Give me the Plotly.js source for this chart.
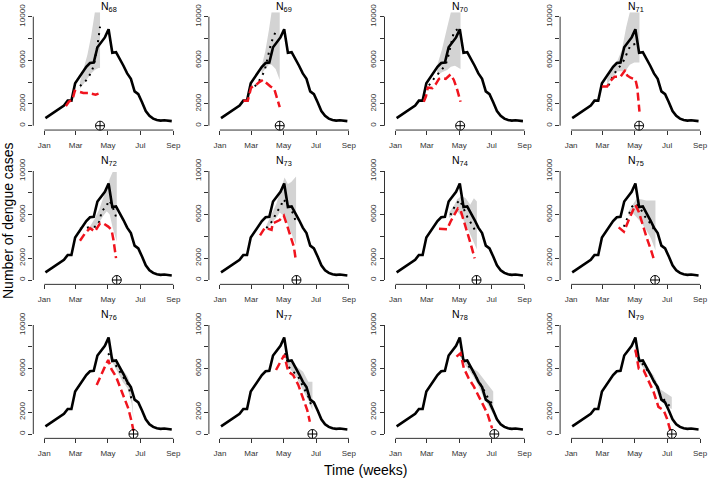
<!DOCTYPE html>
<html>
<head>
<meta charset="utf-8">
<script src="https://cdn.plot.ly/plotly-3.0.1.min.js"></script>
<style>
html, body { margin: 0; padding: 0; background: #fff; }
#chart { width: 709px; height: 480px; }
</style>
</head>
<body>
<div id="chart"></div>
<script>
"use strict"

// weeks counted from 1 January
var monthWeeks = [0, 8.43, 17.14, 25.86, 34.71];
var monthLabels = ['Jan', 'Mar', 'May', 'Jul', 'Sep'];
// R drops the labels that would overlap: 4000 and 8000 keep only a tick
var caseTicks = [0, 2000, 6000, 10000];
var caseTicksBare = [4000, 8000];

// observed weekly dengue cases
var obsCases = [700, 930, 1180, 1400, 1580, 1850, 2300, 2300, 3900, 4400, 4900, 5400,
	5750, 5800, 7200, 7700, 8100, 8850, 6700, 6750, 6150, 5500, 4800, 4300,
	3150, 2900, 2150, 1350, 900, 650, 520, 470, 500, 450, 420];
var obsWeeks = [];
for (var k = 0; k < obsCases.length; k++) obsWeeks.push(k + 0.3);

var panelNames = ['68', '69', '70', '71', '72', '73', '74', '75', '76', '77', '78', '79'];
var crossWeeks = [15.0, 16.1, 17.4, 18.3, 19.5, 20.6, 21.8, 22.6, 24.0, 24.9, 26.6, 27.1];

// grey prediction band
var bandWeeks = [
	[9.6, 10.6, 11.6, 12.6, 13.6, 14.6, 15.0],
	[11.2, 12.2, 13.2, 13.9, 15.0, 16.1],
	[11.2, 12.5, 13.9, 14.9, 16.0, 17.5],
	[9.7, 11.0, 12.5, 13.7, 14.8, 15.8, 17.0, 18.4],
	[12.3, 13.5, 14.8, 15.9, 16.8, 17.6, 18.4, 19.5],
	[12.5, 13.9, 15.2, 16.1, 17.4, 18.3, 19.2, 20.5],
	[14.4, 15.7, 16.6, 17.8, 18.9, 20.1, 21.1, 21.9],
	[15.5, 16.4, 17.5, 18.8, 20.2, 21.5, 22.7],
	[17.7, 18.7, 19.8, 21.1, 22.4, 23.5, 24.0],
	[17.5, 18.8, 20.6, 22.4, 23.8, 24.9],
	[17.5, 18.8, 20.9, 22.2, 23.5, 24.9, 26.3],
	[17.3, 18.6, 20.4, 22.2, 24.0, 25.8, 27.1]
];
var bandUpper = [
	[4000, 5200, 6500, 8200, 10400, 10400, 10400],
	[5400, 6800, 8800, 10400, 10400, 10400],
	[5500, 7000, 9000, 10400, 10400, 10400],
	[4300, 5200, 6000, 7000, 9000, 10400, 10400, 10400],
	[4900, 5600, 6500, 7600, 8600, 9300, 9900, 9900],
	[5000, 6000, 7000, 8000, 9400, 8800, 9000, 9500],
	[6200, 6800, 7400, 7700, 7500, 6900, 7500, 7200],
	[6300, 6800, 7400, 7400, 7300, 7300, 7300],
	[7300, 7000, 6500, 5900, 5300, 4300, 1800],
	[7400, 6800, 6200, 5700, 4800, 4800],
	[7300, 6800, 6000, 5700, 5100, 4500, 3900],
	[7500, 7000, 6100, 5400, 4100, 3700, 3400]
];
var bandLower = [
	[3400, 3800, 4300, 4800, 5100, 5300, 5300],
	[4800, 5200, 5600, 5600, 5200, 4200],
	[4600, 4900, 5100, 5400, 5500, 5200],
	[3800, 4400, 5000, 5000, 5100, 5600, 5800, 5800],
	[4600, 4800, 5300, 5900, 6300, 6000, 4800, 3500],
	[4600, 5200, 5700, 6200, 5800, 5000, 4300, 3200],
	[5700, 6000, 6300, 5800, 5100, 4200, 3500, 2800],
	[5900, 6200, 5800, 5300, 4600, 3800, 2700],
	[7000, 6400, 5600, 4800, 4200, 2800, 1300],
	[7000, 6000, 5200, 4000, 3100, 2200],
	[7100, 6300, 5300, 4500, 3500, 2600, 1800],
	[7300, 6400, 5700, 4700, 3100, 2500, 2300]
];

// black dotted prediction
var dotWeeks = [
	[9.6, 11.2, 12.5, 13.2, 13.6, 14.1, 14.4, 15.0],
	[9.4, 10.7, 12.0, 12.9, 13.8, 14.6, 15.4],
	[9.0, 10.3, 12.1, 13.5, 14.3, 14.8, 15.7, 17.3],
	[10.1, 11.2, 12.4, 13.3, 14.2, 15.1, 16.0, 17.3],
	[9.6, 11.0, 12.3, 14.1, 15.0, 15.4, 16.8, 17.2, 18.1, 19.3],
	[12.5, 13.4, 14.3, 15.2, 16.4, 17.0, 17.9, 19.0, 19.7, 20.4],
	[14.8, 16.1, 17.3, 18.4, 19.3, 20.6, 21.5],
	[14.2, 15.2, 16.4, 17.3, 18.6, 19.9, 21.3, 22.4],
	[17.2, 18.6, 19.9, 21.3, 22.6, 23.5],
	[17.5, 18.6, 19.7, 21.1, 22.4, 23.8, 24.7],
	[17.5, 18.8, 20.9, 22.2, 23.5, 24.9, 26.3],
	[17.3, 18.6, 20.4, 22.2, 24.0, 25.8, 27.1]
];
var dotCases = [
	[3640, 4130, 4800, 5400, 6000, 6940, 7600, 9080],
	[3600, 4200, 5000, 6200, 7600, 8300, 8950],
	[3700, 4300, 5000, 5600, 6500, 7300, 8600, 9000],
	[3700, 4500, 5200, 5500, 6000, 6700, 7400, 7500],
	[4700, 4800, 4850, 4900, 5500, 6350, 6700, 7300, 7000, 5800],
	[4750, 5100, 5500, 6200, 6750, 7400, 7100, 6500, 6100, 5400],
	[5960, 6880, 7340, 6480, 5810, 5050, 4500],
	[4890, 5660, 6730, 7030, 6580, 5810, 5200, 4590],
	[7400, 6640, 5930, 5110, 4500, 3120],
	[7400, 6120, 5720, 5260, 4340, 3430, 2510],
	[7300, 6600, 5700, 5000, 4200, 3300, 2600],
	[7600, 6700, 5900, 5000, 3600, 2800, 2400]
];

// red dashed prediction
var redWeeks = [
	[5.8, 6.6, 7.6, 8.2, 9.5, 10.5, 11.8, 12.8, 13.8, 14.6],
	[6.3, 7.5, 8.4, 9.6, 10.6, 11.6, 12.6, 13.6, 14.6, 15.5, 16.1],
	[7.6, 8.2, 8.7, 9.9, 10.8, 11.7, 12.6, 13.5, 14.8, 15.7, 16.6, 17.5],
	[8.3, 9.7, 10.6, 11.7, 13.3, 14.6, 15.1, 16.0, 17.3, 17.8, 18.4],
	[9.6, 11.0, 12.3, 13.6, 15.0, 16.1, 17.2, 18.1, 18.6, 19.3],
	[10.8, 12.1, 13.9, 14.2, 16.1, 17.2, 17.9, 18.8, 19.9, 20.4],
	[11.7, 13.9, 14.8, 15.7, 16.8, 17.5, 18.2, 19.1, 20.2, 21.3],
	[12.8, 14.2, 15.5, 16.8, 17.3, 18.2, 19.1, 20.4, 21.5, 22.2],
	[14.1, 15.0, 16.1, 17.2, 18.1, 19.3, 20.4, 21.7, 22.6, 23.5, 24.0],
	[15.1, 16.1, 17.3, 18.4, 19.7, 21.1, 22.4, 23.5, 24.2],
	[16.4, 17.5, 18.4, 19.7, 21.1, 22.4, 23.8, 24.7, 26.0],
	[17.3, 18.2, 19.5, 20.8, 22.2, 23.5, 24.9, 25.8, 26.7]
];
var redCases = [
	[1800, 2200, 2400, 3200, 3100, 3000, 3000, 2900, 2850, 2950],
	[2300, 2300, 3500, 3700, 4000, 4200, 3900, 3600, 3400, 2500, 1700],
	[2200, 2700, 3500, 3450, 3800, 4300, 4350, 4300, 4700, 4200, 3300, 2200],
	[3600, 3600, 4100, 4500, 4500, 5100, 4600, 4400, 4250, 3500, 1300],
	[3600, 4300, 4750, 4450, 5200, 5150, 4900, 4600, 3700, 2000],
	[4100, 4800, 4600, 5200, 5500, 5900, 5200, 4300, 3050, 1900],
	[4700, 4650, 5350, 5960, 6570, 6420, 5660, 4590, 3360, 1990],
	[4830, 4430, 5500, 6570, 6880, 6270, 5200, 3820, 2750, 1990],
	[4500, 5260, 6020, 6790, 5930, 5260, 4340, 3270, 2350, 1130, 300],
	[5870, 6480, 7250, 5720, 5410, 4500, 3270, 2200, 1130],
	[7100, 7400, 6020, 5110, 4340, 3430, 2510, 1900, 520],
	[7760, 6010, 5860, 4940, 3870, 2490, 2180, 1410, 340]
];

(function(){
	var W = 709, H = 480;
	var janPx = [44.3, 219.9, 395.5, 571.1];
	var zeroPx = [125.7, 280, 434];
	var titlePx = [6.5, 161, 315];
	var pxPerWeek = 3.716, pxPerCase = 0.0109;
	var xRange = [-2.96, 36], yRange = [-400, 10400];
	var fontFam = 'Liberation Sans, Arial, Helvetica, sans-serif';

	var data = [], shapes = [], annotations = [];
	var layout = {
		width: W, height: H,
		margin: {l: 0, r: 0, t: 0, b: 0},
		paper_bgcolor: '#fff', plot_bgcolor: '#fff',
		showlegend: false,
		font: {family: fontFam, color: '#222'}
	};

	for (var i = 0; i < panelNames.length; i++) {
		var row = Math.floor(i / 4), col = i % 4;
		var n = i + 1;
		var xa = n === 1 ? 'x' : 'x' + n, ya = n === 1 ? 'y' : 'y' + n;
		var xKey = n === 1 ? 'xaxis' : 'xaxis' + n, yKey = n === 1 ? 'yaxis' : 'yaxis' + n;

		var leftPx = janPx[col] + xRange[0] * pxPerWeek,
			rightPx = janPx[col] + xRange[1] * pxPerWeek,
			bottomPx = zeroPx[row] - yRange[0] * pxPerCase,
			topPx = zeroPx[row] - yRange[1] * pxPerCase;

		layout[xKey] = {
			domain: [leftPx / W, rightPx / W], range: xRange, anchor: ya,
			tickvals: monthWeeks, ticktext: monthLabels,
			ticks: 'outside', ticklen: 4, tickwidth: 1, tickcolor: '#333',
			ticklabelstandoff: 3,
			tickfont: {size: 8, color: '#333'},
			showgrid: false, zeroline: false, showline: false, fixedrange: true
		};
		layout[yKey] = {
			domain: [1 - bottomPx / H, 1 - topPx / H], range: yRange, anchor: xa,
			tickmode: 'array', tickvals: caseTicks, ticktext: caseTicks.map(String), tickangle: -90,
			ticks: 'outside', ticklen: 4, tickwidth: 1, tickcolor: '#333',
			tickfont: {size: 8, color: '#333'},
			minor: {tickmode: 'array', tickvals: caseTicksBare, ticks: 'outside', ticklen: 4, tickwidth: 1,
				tickcolor: '#333', showgrid: false},
			showgrid: false, zeroline: false, showline: false, fixedrange: true
		};

		// detached axis lines, R style
		shapes.push({type: 'line', xref: xa, yref: ya + ' domain', x0: monthWeeks[0], x1: monthWeeks[monthWeeks.length - 1],
			y0: 0, y1: 0, line: {color: '#333', width: 1}});
		shapes.push({type: 'line', xref: xa + ' domain', yref: ya, x0: 0, x1: 0,
			y0: caseTicks[0], y1: caseTicks[caseTicks.length - 1], line: {color: '#333', width: 1}});

		var bx = bandWeeks[i].concat(bandWeeks[i].slice().reverse());
		var by = bandUpper[i].concat(bandLower[i].slice().reverse());
		data.push({x: bx, y: by, xaxis: xa, yaxis: ya, type: 'scatter', mode: 'lines',
			fill: 'toself', fillcolor: 'rgb(211,211,211)', line: {width: 0}, hoverinfo: 'skip'});
		data.push({x: obsWeeks, y: obsCases, xaxis: xa, yaxis: ya, type: 'scatter', mode: 'lines',
			line: {color: '#000', width: 2.6}});
		data.push({x: dotWeeks[i], y: dotCases[i], xaxis: xa, yaxis: ya, type: 'scatter', mode: 'lines',
			line: {color: '#000', width: 2, dash: '2px,5px'}});
		data.push({x: redWeeks[i], y: redCases[i], xaxis: xa, yaxis: ya, type: 'scatter', mode: 'lines',
			line: {color: '#f0141e', width: 2.5, dash: '8px,4px'}});
		data.push({x: [crossWeeks[i]], y: [0], xaxis: xa, yaxis: ya, type: 'scatter', mode: 'markers',
			cliponaxis: false,
			marker: {symbol: 'circle-cross-open', size: 9, color: '#000', line: {width: 1, color: '#000'}}});

		annotations.push({xref: xa, yref: 'paper', x: (monthWeeks[0] + monthWeeks[4]) / 2, y: 1 - titlePx[row] / H,
			text: 'N<sub>' + panelNames[i] + '</sub>', showarrow: false, xanchor: 'center', yanchor: 'middle',
			font: {size: 10.5, color: '#000'}});
	}

	annotations.push({xref: 'paper', yref: 'paper', x: 8 / W, y: 1 - 221 / H, text: 'Number of dengue cases',
		textangle: -90, showarrow: false, xanchor: 'center', yanchor: 'middle', font: {size: 14, color: '#000'}});
	annotations.push({xref: 'paper', yref: 'paper', x: 366 / W, y: 1 - 470 / H, text: 'Time (weeks)',
		showarrow: false, xanchor: 'center', yanchor: 'middle', font: {size: 14, color: '#000'}});

	layout.shapes = shapes;
	layout.annotations = annotations;

	Plotly.newPlot('chart', data, layout, {staticPlot: true, displayModeBar: false});
})();
</script>
</body>
</html>
